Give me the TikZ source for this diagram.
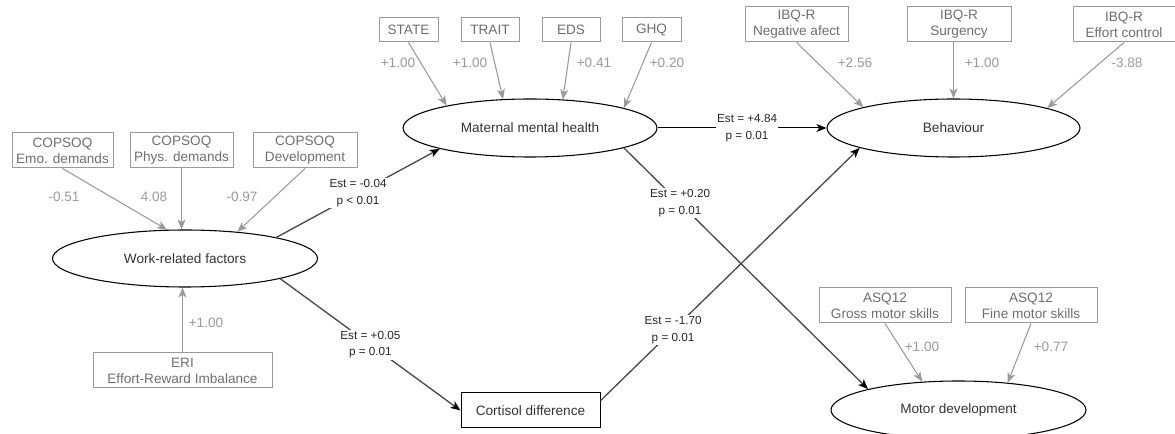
\documentclass[tikz,border=0pt]{standalone}
\usepackage{fontspec}
\setmainfont{Liberation Sans}
\usetikzlibrary{arrows.meta,shapes.geometric,calc}
\definecolor{indc}{HTML}{9A9A9A}
\definecolor{indtext}{HTML}{6E6E6E}
\definecolor{pathc}{HTML}{4A4A4A}
\definecolor{lattext}{HTML}{333333}
\begin{document}
\begin{tikzpicture}[x=0.75pt,y=-0.75pt,
  ind/.style={draw=indc, text=indtext, line width=0.75pt, inner sep=0pt, align=center,
    minimum height=35*0.75pt, font=\fontsize{10.2}{12}\selectfont},
  lat/.style={ellipse, draw=black, line width=0.8pt, inner sep=0pt, text=lattext,
    minimum width=255*0.75pt, minimum height=58*0.75pt, font=\fontsize{10.2}{12}\selectfont},
  obs/.style={draw=black, line width=0.75pt, inner sep=0pt, text=lattext,
    minimum width=139*0.75pt, minimum height=35*0.75pt, font=\fontsize{10.2}{12}\selectfont},
  ld/.style={text=indc, inner sep=0pt, font=\fontsize{10.2}{12}\selectfont},
  est/.style={fill=white, text=black!85, inner sep=1pt, align=center, font=\fontsize{8.8}{12.5}\selectfont},
  indar/.style={draw=indc, line width=0.8pt, -{Stealth[length=7.5pt,width=6pt,inset=2pt]}},
  pathar/.style={draw=pathc, line width=1pt, -{Stealth[length=7.5pt,width=6pt,inset=2pt,color=black]}},
  mainar/.style={draw=black, line width=0.75pt, -{Stealth[length=7.5pt,width=6pt,inset=2pt]}}
]
\useasboundingbox (0,0) rectangle (1175,434);
\clip (0,0) rectangle (1175,434);

% latent variables
\node[lat, minimum width=265*0.75pt, minimum height=57*0.75pt] (wrf) at (185,258.5) {Work-related factors};
\node[lat, minimum width=254*0.75pt] (mmh) at (530,128) {Maternal mental health};
\node[lat, minimum width=253*0.75pt] (beh) at (953.5,128) {Behaviour};
\node[lat] (mot) at (958.5,410) {Motor development};
\node[obs] (cort) at (530.5,410.5) {Cortisol difference};

% indicators of work-related factors
\node[ind, minimum width=101*0.75pt] (emo) at (62.5,150.5) {COPSOQ\\Emo. demands};
\node[ind, minimum width=103*0.75pt] (phys) at (181.5,150.5) {COPSOQ\\Phys. demands};
\node[ind, minimum width=104*0.75pt] (dev) at (305,150.5) {COPSOQ\\Development};
\node[ind, minimum width=179*0.75pt] (eri) at (182.5,370.5) {ERI\\Effort-Reward Imbalance};

% indicators of maternal mental health
\node[ind, minimum width=59*0.75pt, minimum height=24*0.75pt] (state) at (408.5,30) {STATE};
\node[ind, minimum width=58*0.75pt, minimum height=24*0.75pt] (trait) at (490,30) {TRAIT};
\node[ind, minimum width=58*0.75pt, minimum height=24*0.75pt] (eds) at (571,30) {EDS};
\node[ind, minimum width=59*0.75pt, minimum height=24*0.75pt] (ghq) at (651.5,30) {GHQ};

% indicators of behaviour
\node[ind, minimum width=103*0.75pt] (neg) at (796.5,24.5) {IBQ-R\\Negative afect};
\node[ind, minimum width=104*0.75pt] (surg) at (959,24.5) {IBQ-R\\Surgency};
\node[ind, minimum width=102*0.75pt] (effc) at (1124,24.5) {IBQ-R\\Effort control};

% indicators of motor development
\node[ind, minimum width=132*0.75pt] (gross) at (885,305.5) {ASQ12\\Gross motor skills};
\node[ind, minimum width=132*0.75pt] (fine) at (1031,305.5) {ASQ12\\Fine motor skills};

% measurement arrows
\draw[indar] (emo.south) -- (wrf.122.7);
\draw[indar] (phys.south) -- (phys.south |- wrf.north);
\draw[indar] (dev.south) -- (wrf.27.8);
\draw[indar] (eri.north) -- (eri.north |- wrf.south);

\draw[indar] (state.south) -- (mmh.165.7);
\draw[indar] (trait.south) -- (mmh.133.6);
\draw[indar] (eds.south) -- (mmh.41.5);
\draw[indar] (ghq.south) -- (mmh.12.3);

\draw[indar] (neg.south) -- (beh.167.7);
\draw[indar] (surg.south -| beh.center) -- (beh.north);
\draw[indar] (effc.south) -- (beh.12.9);

\draw[indar] (gross.south) -- (mot.142.7);
\draw[indar] (fine.south) -- (mot.29);

% loading labels
\node[ld] (l1) at (64,197) {-0.51};
\node[ld] (l2) at (154,197) {4.08};
\node[ld] (l3) at (242,197) {-0.97};
\node[ld] (l4) at (206,323) {+1.00};
\node[ld] (l5) at (398,63) {+1.00};
\node[ld] (l6) at (470,63) {+1.00};
\node[ld] (l7) at (594,63) {+0.41};
\node[ld] (l8) at (667,63) {+0.20};
\node[ld] (l9) at (855,63) {+2.56};
\node[ld] (l10) at (982,63) {+1.00};
\node[ld] (l11) at (1127,63) {-3.88};
\node[ld] (l12) at (922,347) {+1.00};
\node[ld] (l13) at (1051,347) {+0.77};

% structural paths
\draw[pathar] (wrf.13.6) -- node[est, pos=0.5] (e1) {Est = -0.04\\p < 0.01} (mmh.-167.2);
\draw[pathar] (wrf.-12.6) -- node[est, pos=0.5] (e2) {Est = +0.05\\p = 0.01} (cort.west);
\draw[mainar] (mmh.east) -- node[est, pos=0.53] (e3) {Est = +4.84\\p = 0.01} (beh.west);
\draw[pathar] (mmh.-12.3) -- node[est, pos=0.23] (e4) {Est = +0.20\\p = 0.01} (mot.167.3);
\draw[pathar] (cort.8) -- node[est, pos=0.28] (e5) {Est = -1.70\\p = 0.01} (beh.-168.2);
\end{tikzpicture}
\end{document}
